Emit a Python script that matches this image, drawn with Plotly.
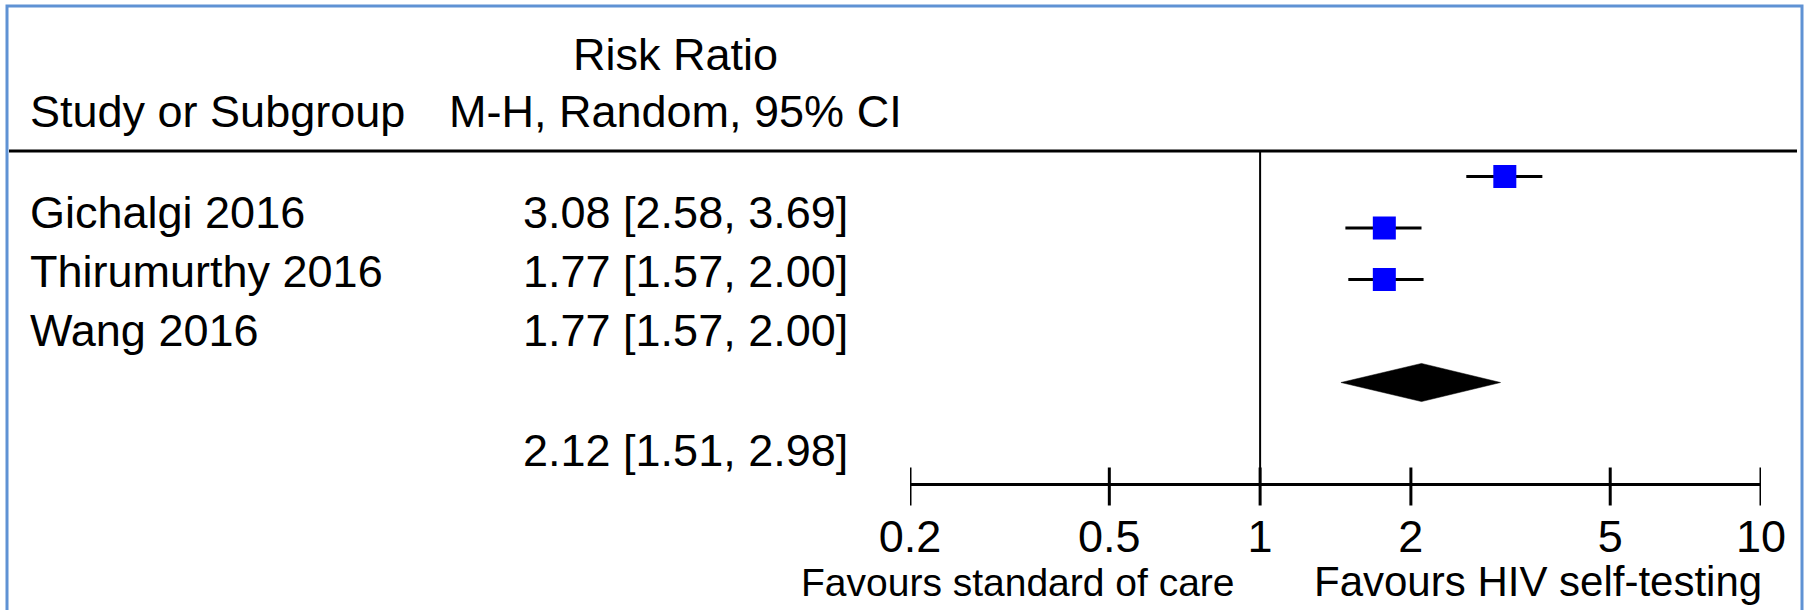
import math
import plotly.graph_objects as go

# ---------------- data ----------------
studies = ["Gichalgi 2016", "Thirumurthy 2016", "Wang 2016"]
rr = [3.08, 1.77, 1.77]
ci_low = [2.58, 1.57, 1.57]
ci_high = [3.69, 2.00, 2.00]
# confidence-interval ends as they are drawn in the graphic
drawn_low = [2.58, 1.48, 1.50]
drawn_high = [3.66, 2.10, 2.12]
pooled_rr = 2.12
pooled_low = 1.51
pooled_high = 2.98
# pooled diamond as drawn: left tip, centre, right tip
drawn_pooled = [1.45, 2.10, 3.02]
tick_values = [0.2, 0.5, 1, 2, 5, 10]
tick_labels = ["0.2", "0.5", "1", "2", "5", "10"]
header_left = "Study or Subgroup"
header_top = "Risk Ratio"
header_sub = "M-H, Random, 95% CI"
favours_left = "Favours standard of care"
favours_right = "Favours HIV self-testing"

# ---------------- geometry / style ----------------
W, H = 1806, 610
FONT = "Liberation Sans, Arial, sans-serif"
FS = 45
ROW0, ROW = 176.5, 51.5          # marker rows (pixels)
AXIS_ROW = 6                     # row index of the x axis
DIAMOND_ROW = 4
X0, X1 = 910, 1761               # pixel extent of the axis


def py(p):
    return 1 - p / H


def px(p):
    return p / W


fig = go.Figure()

# CI lines
lx, ly = [], []
for i, (lo, hi) in enumerate(zip(drawn_low, drawn_high)):
    lx += [lo, hi, None]
    ly += [i, i, None]
fig.add_trace(go.Scatter(x=lx, y=ly, mode="lines",
                         line=dict(color="black", width=3),
                         hoverinfo="skip", showlegend=False))

# study markers
fig.add_trace(go.Scatter(x=rr, y=list(range(len(rr))), mode="markers",
                         marker=dict(symbol="square", size=23, color="#0000ff",
                                     line=dict(width=0)),
                         showlegend=False))

# pooled diamond
dh = 0.37
fig.add_trace(go.Scatter(
    x=[drawn_pooled[0], drawn_pooled[1], drawn_pooled[2], drawn_pooled[1], drawn_pooled[0]],
    y=[DIAMOND_ROW, DIAMOND_ROW - dh, DIAMOND_ROW, DIAMOND_ROW + dh, DIAMOND_ROW],
    mode="lines", fill="toself", fillcolor="black",
    line=dict(color="black", width=0.5), hoverinfo="skip", showlegend=False))

# line of no effect
top_idx = (151 - ROW0) / ROW
fig.add_trace(go.Scatter(x=[1, 1], y=[top_idx, AXIS_ROW], mode="lines",
                         line=dict(color="black", width=2),
                         hoverinfo="skip", showlegend=False))

# axis ticks, crossing the axis line
tl_up = 18 / ROW
tl_dn = 20 / ROW
tx, ty = [], []
for v in tick_values:
    tx += [v, v, None]
    ty += [AXIS_ROW - tl_up, AXIS_ROW + tl_dn, None]
fig.add_trace(go.Scatter(x=tx, y=ty, mode="lines",
                         line=dict(color="black", width=3),
                         hoverinfo="skip", showlegend=False))

# ---------------- text ----------------
ann = []


def text(x, base, s, anchor="left", size=FS):
    ann.append(dict(x=px(x), y=py(base - 0.35 * size), xref="paper", yref="paper",
                    text=s, showarrow=False, xanchor=anchor, yanchor="middle",
                    font=dict(family=FONT, size=size, color="black")))


text(675, 70, header_top, "center")
text(675, 127, header_sub, "center")
text(28, 127, header_left, "left")
for i, s in enumerate(studies):
    base = 228 + 59 * i
    text(28, base, s, "left")
    text(521, base, f"{rr[i]:.2f} [{ci_low[i]:.2f}, {ci_high[i]:.2f}]", "left")
text(521, 466, f"{pooled_rr:.2f} [{pooled_low:.2f}, {pooled_high:.2f}]", "left")
text(1237, 596, favours_left, "right", 39)
text(1764, 596, favours_right, "right", 42)

shapes = [
    # header rule
    dict(type="line", xref="paper", yref="paper", x0=px(9), x1=px(1797),
         y0=py(151), y1=py(151), line=dict(color="black", width=3)),
    # outer frame
    dict(type="rect", xref="paper", yref="paper", x0=px(7), x1=px(1802),
         y0=py(640), y1=py(6), line=dict(color="#5f92d4", width=3),
         fillcolor="rgba(0,0,0,0)"),
]

fig.update_layout(
    width=W, height=H, margin=dict(l=0, r=0, t=0, b=0, pad=0, autoexpand=False),
    autosize=False,
    paper_bgcolor="white", plot_bgcolor="white",
    showlegend=False, annotations=ann, shapes=shapes,
    xaxis=dict(type="log", range=[math.log10(0.2), math.log10(10)],
               domain=[px(X0), px(X1)], anchor="free", position=py(484.3),
               automargin=False,
               showline=True, linewidth=3, linecolor="black",
               ticks="outside", ticklen=12, tickwidth=1,
               tickcolor="rgba(0,0,0,0)",
               tickvals=tick_values, ticktext=tick_labels,
               tickfont=dict(family=FONT, size=FS, color="black"),
               showgrid=False, zeroline=False, fixedrange=True),
    yaxis=dict(range=[(H - ROW0) / ROW, -ROW0 / ROW], domain=[0, 1],
               automargin=False,
               visible=False, showgrid=False, zeroline=False, fixedrange=True),
)

fig.write_html("out.html", config={"displayModeBar": False})
